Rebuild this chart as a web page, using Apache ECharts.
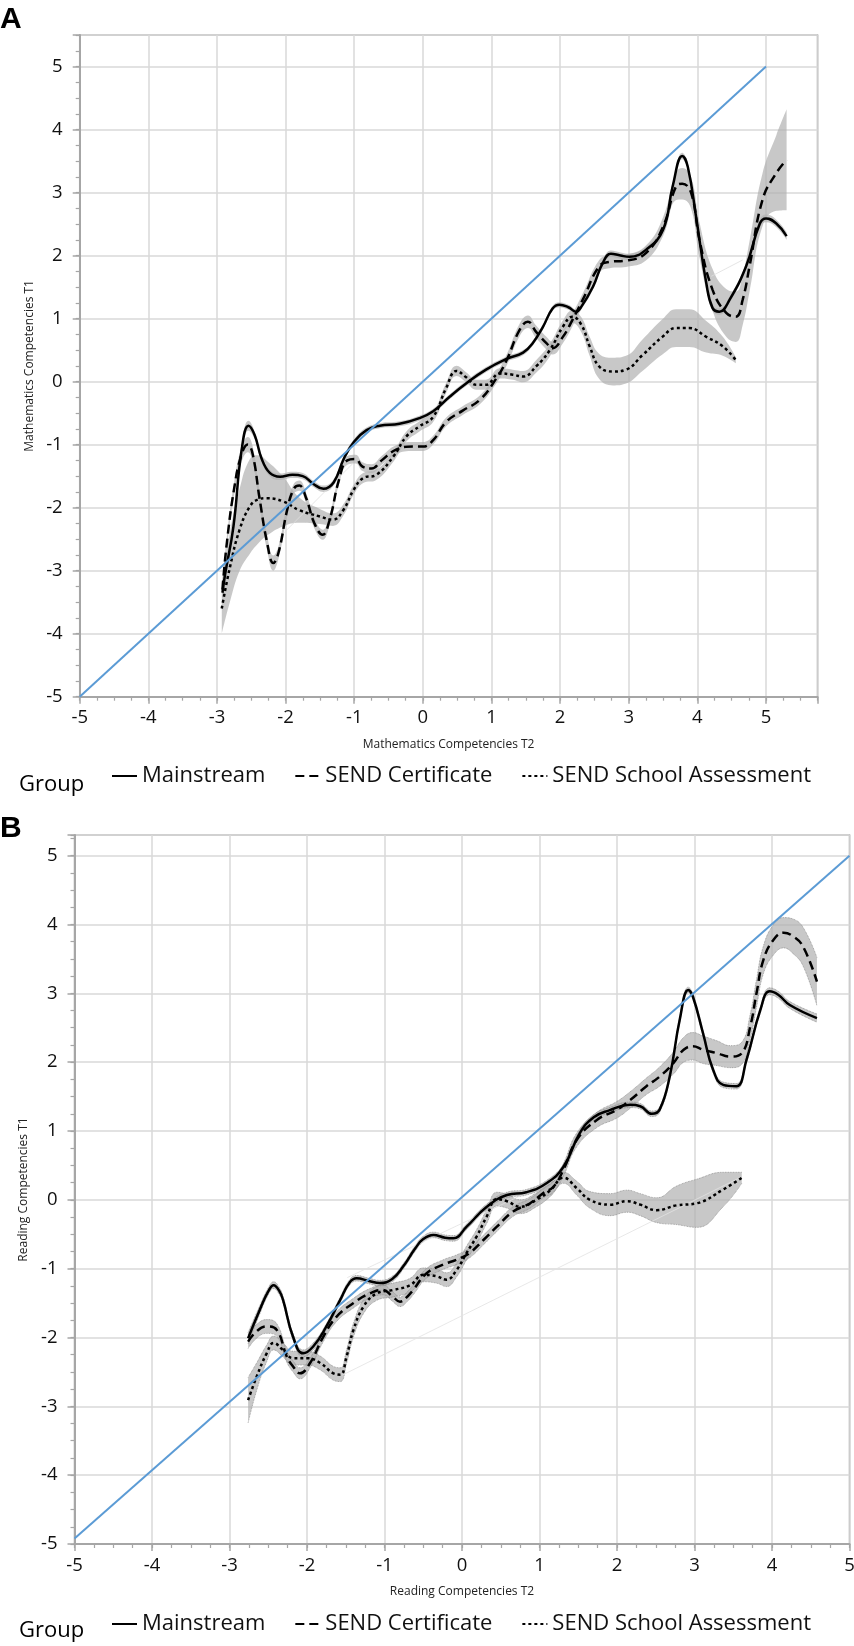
<!DOCTYPE html>
<html>
<head>
<meta charset="utf-8">
<title>Competencies T1 vs T2</title>
<script src="https://cdn.jsdelivr.net/npm/echarts/dist/echarts.min.js"></script>
<style>
  html, body { margin: 0; padding: 0; background: #fff; }
  #chart { width: 854px; height: 1646px; }
</style>
</head>
<body>
<div id="chart"></div>
<script>
// groups shown in both legends
var groups = ['Mainstream', 'SEND Certificate', 'SEND School Assessment'];

// ---- panel A: mathematics ----
var mathMainX = [-2.92, -2.88, -2.76, -2.64, -2.54, -2.45, -2.35, -2.23, -2.08, -1.90, -1.75, -1.60, -1.45, -1.30, -1.15, -1.00, -0.82, -0.63, -0.34, -0.05, 0.15, 0.39, 0.63, 0.92, 1.22, 1.46, 1.60, 1.75, 1.89, 1.99, 2.12, 2.23, 2.31, 2.48, 2.62, 2.74, 2.88, 3.01, 3.25, 3.50, 3.64, 3.78, 3.86, 3.98, 4.13, 4.22, 4.32, 4.47, 4.71, 4.91, 5.00, 5.15, 5.30];
var mathMainY = [-3.35, -3.05, -2.30, -1.08, -0.70, -0.85, -1.22, -1.45, -1.51, -1.48, -1.50, -1.62, -1.70, -1.60, -1.22, -0.95, -0.77, -0.70, -0.67, -0.58, -0.47, -0.24, -0.03, 0.19, 0.36, 0.46, 0.61, 0.87, 1.16, 1.22, 1.18, 1.11, 1.19, 1.51, 1.88, 2.03, 2.00, 1.98, 2.09, 2.41, 3.10, 3.58, 3.41, 2.62, 1.56, 1.17, 1.11, 1.30, 1.83, 2.51, 2.59, 2.51, 2.31];
var mathMainCI = [0.10, 0.10, 0.10, 0.10, 0.08, 0.06, 0.05, 0.05, 0.05, 0.05, 0.05, 0.05, 0.05, 0.05, 0.05, 0.04, 0.04, 0.04, 0.04, 0.04, 0.04, 0.04, 0.04, 0.04, 0.04, 0.04, 0.04, 0.04, 0.04, 0.04, 0.04, 0.04, 0.04, 0.05, 0.05, 0.05, 0.05, 0.05, 0.05, 0.05, 0.05, 0.05, 0.05, 0.05, 0.05, 0.05, 0.05, 0.05, 0.05, 0.06, 0.06, 0.06, 0.06];

var mathCertX = [-2.92, -2.86, -2.75, -2.64, -2.55, -2.48, -2.38, -2.27, -2.18, -2.10, -1.98, -1.88, -1.80, -1.70, -1.58, -1.46, -1.36, -1.22, -1.10, -0.98, -0.88, -0.75, -0.60, -0.39, -0.14, 0.00, 0.15, 0.34, 0.58, 0.83, 1.07, 1.22, 1.41, 1.53, 1.65, 1.80, 1.89, 2.04, 2.18, 2.33, 2.57, 2.72, 2.96, 3.25, 3.50, 3.69, 3.78, 3.91, 4.03, 4.22, 4.42, 4.56, 4.66, 4.76, 4.95, 5.15, 5.30];
var mathCertY = [-3.30, -2.60, -1.70, -1.15, -1.00, -1.15, -1.85, -2.55, -2.88, -2.70, -2.05, -1.70, -1.65, -1.85, -2.25, -2.43, -2.20, -1.55, -1.25, -1.23, -1.35, -1.38, -1.25, -1.08, -1.03, -1.03, -0.93, -0.64, -0.46, -0.29, 0.05, 0.34, 0.82, 0.95, 0.79, 0.61, 0.53, 0.71, 0.98, 1.30, 1.83, 1.90, 1.92, 2.04, 2.46, 3.10, 3.14, 2.99, 2.25, 1.46, 1.09, 1.03, 1.30, 1.83, 2.89, 3.31, 3.52];
var mathCertCI = [0.10, 0.10, 0.10, 0.12, 0.12, 0.12, 0.12, 0.12, 0.12, 0.10, 0.10, 0.08, 0.08, 0.08, 0.08, 0.08, 0.08, 0.07, 0.07, 0.07, 0.07, 0.07, 0.07, 0.07, 0.07, 0.07, 0.07, 0.07, 0.07, 0.07, 0.08, 0.09, 0.10, 0.10, 0.10, 0.10, 0.10, 0.10, 0.10, 0.10, 0.10, 0.10, 0.10, 0.12, 0.15, 0.22, 0.25, 0.25, 0.28, 0.33, 0.38, 0.40, 0.40, 0.40, 0.42, 0.60, 0.80];

var mathSchoolX = [-2.93, -2.81, -2.67, -2.52, -2.40, -2.28, -2.04, -1.80, -1.50, -1.31, -1.16, -1.01, -0.87, -0.68, -0.43, -0.24, -0.05, 0.15, 0.34, 0.49, 0.63, 0.78, 0.92, 1.12, 1.31, 1.46, 1.65, 1.85, 2.04, 2.18, 2.31, 2.43, 2.57, 2.77, 2.96, 3.20, 3.49, 3.69, 3.88, 4.13, 4.37, 4.56];
var mathSchoolY = [-3.60, -2.94, -2.35, -1.98, -1.87, -1.85, -1.90, -2.04, -2.14, -2.19, -2.04, -1.72, -1.53, -1.48, -1.19, -0.87, -0.71, -0.56, -0.10, 0.17, 0.07, -0.05, -0.05, 0.13, 0.11, 0.08, 0.24, 0.50, 0.87, 1.03, 0.90, 0.56, 0.24, 0.16, 0.19, 0.42, 0.71, 0.85, 0.85, 0.71, 0.56, 0.34];
var mathSchoolCI = [0.40, 0.55, 0.65, 0.75, 0.70, 0.60, 0.40, 0.20, 0.12, 0.10, 0.09, 0.08, 0.08, 0.08, 0.08, 0.08, 0.08, 0.08, 0.08, 0.08, 0.08, 0.08, 0.08, 0.08, 0.08, 0.09, 0.10, 0.10, 0.10, 0.10, 0.12, 0.15, 0.20, 0.22, 0.22, 0.25, 0.28, 0.30, 0.30, 0.25, 0.15, 0.05];

var mathDiagonal = [[-5, -5], [5, 5]];
var mathFaint = [[[-2.08, -2.46], [-1.02, -1.30]], [[4.20, 1.67], [4.66, 1.93]]];

// ---- panel B: reading ----
var readMainX = [-2.76, -2.61, -2.50, -2.43, -2.36, -2.31, -2.18, -2.05, -1.92, -1.75, -1.57, -1.45, -1.36, -1.20, -1.06, -0.90, -0.76, -0.60, -0.50, -0.37, -0.22, -0.11, 0.06, 0.32, 0.58, 0.83, 1.09, 1.31, 1.52, 1.70, 1.90, 2.17, 2.30, 2.45, 2.55, 2.68, 2.81, 2.92, 2.98, 3.11, 3.24, 3.37, 3.54, 3.67, 3.85, 3.97, 4.08, 4.23, 4.58];
var readMainY = [-2.01, -1.60, -1.33, -1.24, -1.32, -1.45, -1.99, -2.23, -2.13, -1.84, -1.45, -1.20, -1.14, -1.18, -1.21, -1.15, -0.97, -0.70, -0.57, -0.51, -0.55, -0.56, -0.39, -0.10, 0.07, 0.11, 0.24, 0.48, 0.97, 1.20, 1.30, 1.38, 1.36, 1.25, 1.31, 1.79, 2.62, 3.05, 2.95, 2.42, 1.89, 1.67, 1.65, 2.03, 2.76, 3.03, 2.98, 2.83, 2.64];
var readMainCI = [0.08, 0.06, 0.05, 0.05, 0.05, 0.05, 0.05, 0.05, 0.05, 0.04, 0.04, 0.04, 0.04, 0.04, 0.04, 0.04, 0.04, 0.04, 0.04, 0.04, 0.04, 0.04, 0.04, 0.04, 0.04, 0.04, 0.04, 0.04, 0.04, 0.04, 0.04, 0.04, 0.04, 0.04, 0.04, 0.04, 0.04, 0.04, 0.04, 0.04, 0.04, 0.04, 0.04, 0.04, 0.04, 0.05, 0.05, 0.05, 0.06];

var readCertX = [-2.76, -2.65, -2.52, -2.39, -2.26, -2.18, -2.09, -1.96, -1.79, -1.62, -1.40, -1.19, -1.02, -0.90, -0.80, -0.70, -0.63, -0.46, -0.24, -0.07, 0.10, 0.28, 0.45, 0.66, 0.88, 1.05, 1.18, 1.31, 1.48, 1.74, 2.00, 2.17, 2.38, 2.55, 2.73, 2.86, 2.98, 3.11, 3.29, 3.46, 3.61, 3.72, 3.80, 3.89, 4.02, 4.15, 4.27, 4.40, 4.58];
var readCertY = [-2.06, -1.91, -1.84, -1.89, -2.28, -2.42, -2.52, -2.37, -1.99, -1.70, -1.50, -1.36, -1.31, -1.40, -1.48, -1.40, -1.31, -1.07, -0.94, -0.87, -0.77, -0.58, -0.39, -0.17, -0.05, 0.10, 0.19, 0.44, 0.87, 1.16, 1.31, 1.45, 1.65, 1.79, 1.99, 2.18, 2.23, 2.18, 2.13, 2.08, 2.13, 2.52, 3.00, 3.49, 3.78, 3.88, 3.83, 3.68, 3.17];
var readCertCI = [0.10, 0.10, 0.10, 0.09, 0.08, 0.08, 0.08, 0.07, 0.07, 0.07, 0.07, 0.07, 0.07, 0.07, 0.07, 0.07, 0.07, 0.07, 0.07, 0.07, 0.07, 0.07, 0.07, 0.07, 0.07, 0.07, 0.08, 0.09, 0.10, 0.11, 0.12, 0.12, 0.12, 0.14, 0.16, 0.18, 0.20, 0.20, 0.18, 0.16, 0.16, 0.18, 0.20, 0.20, 0.22, 0.22, 0.25, 0.28, 0.35];

var readSchoolX = [-2.76, -2.65, -2.52, -2.43, -2.31, -2.18, -2.00, -1.83, -1.66, -1.57, -1.49, -1.40, -1.27, -1.10, -0.89, -0.67, -0.50, -0.33, -0.20, -0.07, 0.06, 0.19, 0.32, 0.45, 0.58, 0.75, 0.96, 1.14, 1.31, 1.48, 1.65, 1.91, 2.13, 2.30, 2.51, 2.77, 3.03, 3.37, 3.61];
var readSchoolY = [-2.91, -2.57, -2.23, -2.08, -2.18, -2.30, -2.30, -2.37, -2.52, -2.54, -2.28, -1.89, -1.55, -1.36, -1.31, -1.24, -1.09, -1.11, -1.16, -1.02, -0.77, -0.53, -0.24, 0.01, -0.02, -0.10, 0.00, 0.14, 0.32, 0.17, 0.00, -0.07, -0.02, -0.07, -0.15, -0.08, -0.05, 0.15, 0.32];
var readSchoolCI = [0.33, 0.20, 0.12, 0.10, 0.10, 0.10, 0.10, 0.10, 0.10, 0.10, 0.10, 0.10, 0.10, 0.10, 0.10, 0.10, 0.10, 0.10, 0.10, 0.10, 0.10, 0.10, 0.10, 0.10, 0.10, 0.10, 0.10, 0.09, 0.08, 0.10, 0.12, 0.16, 0.16, 0.16, 0.18, 0.28, 0.35, 0.25, 0.08];

var readDiagonal = [[-5, -4.92], [5, 5]];
var readFaint = [[[-1.55, -2.55], [3.60, 0.33]], [[-1.48, -1.13], [1.30, 0.35]]];

// axis ranges and tick steps
var xMaxA = 5.75, yMaxA = 5.5;
var xMaxB = 5, yMaxB = 5.3;
var majorStep = 1, minorStep = 0.25;

var FONT = '"Open Sans", "Noto Sans", sans-serif';
var AXIS = '#a6a6a6';
var GRIDC = '#d9d9d9';
var SMOOTH = 0.45;

function pairs(xs, ys) {
    return xs.map(function (x, i) { return [x, ys[i]]; });
}

function intLabel(v) {
    return Math.abs(v - Math.round(v)) < 1e-6 ? String(Math.round(v)) : '';
}

function majorAxis(dim, g, max, name) {
    var isX = dim === 'x';
    return {
        type: 'value',
        gridIndex: g,
        position: isX ? 'bottom' : 'left',
        min: -5,
        max: max,
        interval: majorStep,
        name: name,
        nameLocation: 'middle',
        nameGap: isX ? 42 : 42,
        nameTextStyle: { fontSize: 12, color: '#222', fontFamily: FONT },
        axisLine: { onZero: false, lineStyle: { color: AXIS, width: 2 } },
        axisTick: { length: 7, lineStyle: { color: AXIS, width: 1.5 } },
        axisLabel: { margin: isX ? 12 : 17, fontSize: 18.5, color: '#111', fontFamily: FONT, formatter: intLabel },
        splitLine: { show: true, lineStyle: { color: GRIDC, width: 1.5 } }
    };
}

function minorAxis(dim, g, max) {
    return {
        type: 'value',
        gridIndex: g,
        position: dim === 'x' ? 'bottom' : 'left',
        min: -5,
        max: max,
        interval: minorStep,
        axisLine: { show: false, onZero: false },
        axisTick: { length: 4, lineStyle: { color: AXIS, width: 1.2 } },
        axisLabel: { show: false },
        splitLine: { show: false }
    };
}

// grey confidence band: invisible lower edge + stacked width.
// values are given as [y, x] so that the stack runs on the y dimension.
function bandSeries(g, xs, ys, ci, key, edged) {
    var edge = edged ? { color: '#8a8a8a', width: 0.8, type: 'dotted' } : { opacity: 0 };
    var lower = xs.map(function (x, i) { return [ys[i] - ci[i], x]; });
    var width = xs.map(function (x, i) { return [2 * ci[i], x]; });
    var base = {
        type: 'line', xAxisIndex: g * 2, yAxisIndex: g * 2, stack: key, stackStrategy: 'all',
        encode: { x: 1, y: 0 },
        symbol: 'none', smooth: SMOOTH, silent: true, z: 1, lineStyle: edge
    };
    return [
        Object.assign({}, base, { name: key + '-lo', data: lower }),
        Object.assign({}, base, { name: key + '-ci', data: width, areaStyle: { color: '#b0b0b0', opacity: 0.7 } })
    ];
}

function groupSeries(g, name, xs, ys, dash) {
    return {
        type: 'line', name: name, xAxisIndex: g * 2, yAxisIndex: g * 2,
        data: pairs(xs, ys), symbol: 'none', smooth: SMOOTH, z: 3,
        lineStyle: { color: '#000', width: 2.5, type: dash },
        itemStyle: { color: '#000' }
    };
}

function plainLine(g, data, color, width, z) {
    return {
        type: 'line', xAxisIndex: g * 2, yAxisIndex: g * 2, data: data, symbol: 'none',
        silent: true, z: z, lineStyle: { color: color, width: width }
    };
}

var certDash = [9, 5];
var schoolDash = [3, 3];

var series = []
    .concat(bandSeries(0, mathSchoolX, mathSchoolY, mathSchoolCI, 'aS', false))
    .concat(bandSeries(0, mathCertX, mathCertY, mathCertCI, 'aC', false))
    .concat(bandSeries(0, mathMainX, mathMainY, mathMainCI, 'aM', false))
    .concat(bandSeries(1, readSchoolX, readSchoolY, readSchoolCI, 'bS', true))
    .concat(bandSeries(1, readCertX, readCertY, readCertCI, 'bC', true))
    .concat(bandSeries(1, readMainX, readMainY, readMainCI, 'bM', true));

mathFaint.forEach(function (d) { series.push(plainLine(0, d, '#dedede', 0.8, 2)); });
readFaint.forEach(function (d) { series.push(plainLine(1, d, '#e2e2e2', 0.8, 2)); });

series.push(groupSeries(0, groups[0], mathMainX, mathMainY, 'solid'));
series.push(groupSeries(0, groups[1], mathCertX, mathCertY, certDash));
series.push(groupSeries(0, groups[2], mathSchoolX, mathSchoolY, schoolDash));
series.push(groupSeries(1, groups[0], readMainX, readMainY, 'solid'));
series.push(groupSeries(1, groups[1], readCertX, readCertY, certDash));
series.push(groupSeries(1, groups[2], readSchoolX, readSchoolY, schoolDash));

series.push(plainLine(0, mathDiagonal, '#5b9bd5', 2, 4));
series.push(plainLine(1, readDiagonal, '#5b9bd5', 2, 4));

function legendAt(top) {
    return {
        data: groups, left: 111, top: top, orient: 'horizontal', padding: 0,
        itemWidth: 25, itemHeight: 14, itemGap: 29, selectedMode: false,
        itemStyle: { opacity: 0 },
        textStyle: { fontSize: 22, color: '#111', fontFamily: FONT }
    };
}

function label(text, left, top, size, weight) {
    return {
        text: text, left: left, top: top, padding: 0,
        textStyle: { fontSize: size, fontWeight: weight, color: '#000', fontFamily: weight === 'bold' ? '"Liberation Sans", Arial, sans-serif' : FONT }
    };
}

var myChart = echarts.init(document.getElementById('chart'), null, { renderer: 'canvas' });
var option = {
    backgroundColor: '#fff',
    animation: false,
    title: [
        label('A', 0, 5, 30, 'bold'),
        label('B', 0, 814, 30, 'bold'),
        label('Group', 19, 774, 22, 'normal'),
        label('Group', 19, 1620, 22, 'normal')
    ],
    legend: [legendAt(765), legendAt(1613)],
    grid: [
        { left: 79.7, top: 35, width: 737.8, height: 661.7, show: true, borderColor: AXIS, borderWidth: 1.5, backgroundColor: 'transparent', outerBoundsMode: 'none' },
        { left: 74.5, top: 835, width: 775, height: 709, show: true, borderColor: AXIS, borderWidth: 1.5, backgroundColor: 'transparent', outerBoundsMode: 'none' }
    ],
    xAxis: [
        majorAxis('x', 0, xMaxA, 'Mathematics Competencies T2'),
        minorAxis('x', 0, xMaxA),
        majorAxis('x', 1, xMaxB, 'Reading Competencies T2'),
        minorAxis('x', 1, xMaxB)
    ],
    yAxis: [
        majorAxis('y', 0, yMaxA, 'Mathematics Competencies T1'),
        minorAxis('y', 0, yMaxA),
        majorAxis('y', 1, yMaxB, 'Reading Competencies T1'),
        minorAxis('y', 1, yMaxB)
    ],
    series: series
};
myChart.setOption(option);
window.addEventListener('resize', function () {
    myChart.resize();
});
</script>
</body>
</html>
